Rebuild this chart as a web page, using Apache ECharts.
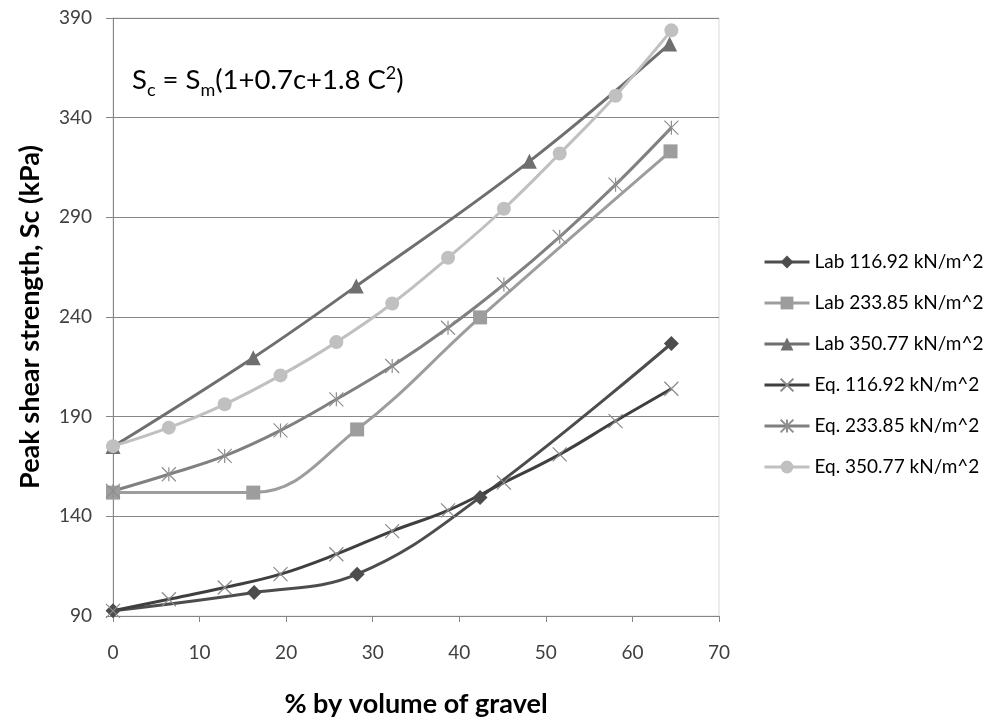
<!DOCTYPE html>
<html>
<head>
<meta charset="utf-8">
<script src="https://cdn.jsdelivr.net/npm/echarts@6/dist/echarts.min.js"></script>
<style>
  html, body { margin: 0; padding: 0; background: #fff; }
  #chart { width: 992px; height: 723px; }
</style>
</head>
<body>
<div id="chart"></div>
<script>
// ---- data ----
const seriesNames = [
  'Lab 116.92 kN/m^2', 'Lab 233.85 kN/m^2', 'Lab 350.77 kN/m^2',
  'Eq. 116.92 kN/m^2', 'Eq. 233.85 kN/m^2', 'Eq. 350.77 kN/m^2'
];
const lab116X = [0, 16.3, 28.2, 42.4, 64.5];
const lab116Y = [92.6, 101.8, 111, 149.5, 226.7];
const lab233X = [0, 16.2, 28.2, 42.4, 64.4];
const lab233Y = [151.9, 151.9, 183.6, 239.8, 323.1];
const lab350X = [0, 16.2, 28.1, 48.1, 64.3];
const lab350Y = [175, 219.6, 255.5, 318.1, 377];
const eqX     = [0, 6.45, 12.9, 19.35, 25.8, 32.25, 38.7, 45.15, 51.6, 58.05, 64.5];
const eq116Y  = [92.6, 98.4, 104.3, 111, 121, 132.6, 143, 156.9, 171.1, 187.8, 204];
const eq233Y  = [152.7, 161.1, 170.3, 183.1, 198.7, 215.4, 234.6, 256.3, 280.2, 306.4, 335];
const eq350Y  = [175.2, 184.5, 196.2, 210.7, 227.4, 246.8, 269.7, 294.3, 322, 351, 383.8];
const xTicks = [0, 10, 20, 30, 40, 50, 60, 70];
const yTicks = [90, 140, 190, 240, 290, 340, 390];

const pairs = (xs, ys) => xs.map((x, i) => [x, ys[i]]);

const FONT = 'Lato';
const chart = echarts.init(document.getElementById('chart'), null, { renderer: 'canvas' });

const X_PATH = 'path://M0,0L10,10M10,0L0,10';
const AST_PATH = 'path://M0,0L10,10M10,0L0,10M5,0L5,10';

function lineSeries(name, data, color, symbol, size, extraItem) {
  return {
    name, type: 'line', data, smooth: 0.4,
    symbol, symbolSize: size,
    lineStyle: { color, width: 3 },
    itemStyle: Object.assign({ color }, extraItem || {}),
    emphasis: { disabled: true },
    z: 3
  };
}

const option = {
  animation: false,
  backgroundColor: '#ffffff',
  textStyle: { fontFamily: FONT },
  grid: {
    left: 113, top: 18, right: 273, bottom: 106,
    show: true, borderColor: '#d9d9d9', borderWidth: 1
  },
  xAxis: {
    type: 'value', min: xTicks[0], max: xTicks[xTicks.length - 1], interval: 10,
    name: '% by volume of gravel', nameLocation: 'middle', nameGap: 75,
    nameTextStyle: { fontFamily: FONT, fontWeight: 'bold', fontSize: 27, color: '#000' },
    axisLine: { lineStyle: { color: '#868686', width: 1 } },
    axisTick: { show: true, length: 6, lineStyle: { color: '#868686' } },
    axisLabel: { fontFamily: FONT, fontSize: 19, color: '#404040', margin: 27 },
    splitLine: { show: false }
  },
  yAxis: {
    type: 'value', min: yTicks[0], max: yTicks[yTicks.length - 1], interval: 50,
    name: 'Peak shear strength, Sc (kPa)', nameLocation: 'middle', nameGap: 69,
    nameTextStyle: { fontFamily: FONT, fontWeight: 'bold', fontSize: 27, color: '#000' },
    axisLine: { show: true, lineStyle: { color: '#868686', width: 1 } },
    axisTick: { show: true, length: 7, lineStyle: { color: '#868686' } },
    axisLabel: { fontFamily: FONT, fontSize: 19, color: '#404040', margin: 21 },
    splitLine: { show: true, lineStyle: { color: '#868686', width: 1 } }
  },
  legend: {
    orient: 'vertical', left: 763, top: 252, padding: 0,
    itemWidth: 45, itemHeight: 16, itemGap: 21,
    lineStyle: { width: 3 },
    textStyle: { fontFamily: FONT, fontSize: 19, color: '#000', lineHeight: 20 },
    data: seriesNames
  },
  graphic: [{
    type: 'text', left: 132, top: 61,
    style: {
      text: '{a|S}{sub|c}{a| = S}{sub|m}{a|(1+0.7c+1.8 C}{sup|2}{a|)}',
      fontFamily: FONT,
      rich: {
        a: { fontFamily: FONT, fontSize: 27.5, color: '#000', lineHeight: 38, verticalAlign: 'middle' },
        sub: { fontFamily: FONT, fontSize: 18, color: '#000', lineHeight: 18, verticalAlign: 'bottom' },
        sup: { fontFamily: FONT, fontSize: 18, color: '#000', lineHeight: 18, verticalAlign: 'top', padding: [3, 0, 0, 0] }
      }
    }
  }],
  series: [
    lineSeries(seriesNames[0], pairs(lab116X, lab116Y), '#4d4d4d', 'diamond', 15),
    lineSeries(seriesNames[1], pairs(lab233X, lab233Y), '#9d9d9d', 'rect', 14),
    lineSeries(seriesNames[2], pairs(lab350X, lab350Y), '#6f6f6f', 'triangle', 15),
    lineSeries(seriesNames[3], pairs(eqX, eq116Y), '#3f3f3f', X_PATH, 14,
      { color: 'none', borderColor: '#8a8a8a', borderWidth: 1.2 }),
    lineSeries(seriesNames[4], pairs(eqX, eq233Y), '#808080', AST_PATH, 14,
      { color: 'none', borderColor: '#8f8f8f', borderWidth: 1.2 }),
    lineSeries(seriesNames[5], pairs(eqX, eq350Y), '#c0c0c0', 'circle', 14)
  ]
};
chart.setOption(option);
</script>
</body>
</html>
